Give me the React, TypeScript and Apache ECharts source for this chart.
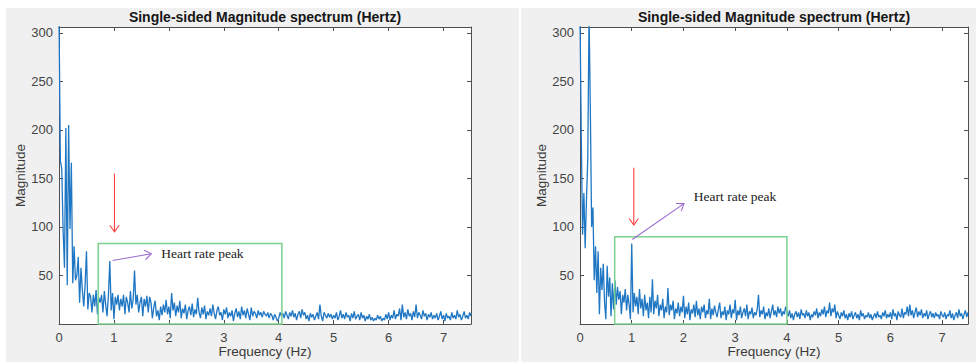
import React, { useEffect, useRef } from "react";
import * as echarts from "echarts";

// ---------- data ----------
const FREQ_STEP = 0.025; // Hz between spectrum bins

// left panel magnitude, bins 0 .. 7.5 Hz
const LEFT_MAGNITUDE = [
  320, 168, 160, 96, 58, 202, 40, 205, 98, 166, 42, 80, 45, 50, 69, 22, 58, 35, 18, 40,
  75, 15, 32, 28, 12, 30, 18, 35, 10, 27, 22, 30, 12, 34, 20, 8, 30, 65, 14, 32,
  5, 28, 20, 30, 14, 26, 18, 30, 10, 28, 22, 12, 34, 16, 25, 55, 20, 30, 12, 22,
  28, 8, 26, 18, 29, 12, 28, 22, 6, 17, 24, 8, 14, 4, 18, 9, 20, 12, 25, 10,
  18, 6, 32, 14, 22, 8, 19, 12, 24, 6, 16, 11, 20, 5, 14, 18, 9, 21, 7, 15,
  10, 27, 12, 6, 17, 10, 19, 5, 13, 9, 16, 8, 20, 11, 5, 14, 18, 9, 12, 4,
  15, 10, 17, 6, 12, 8, 14, 3, 11, 16, 7, 13, 5, 18, 9, 14, 6, 16, 10, 4,
  17, 8, 13, 11, 6, 14, 9, 12, 7, 13, 10, 8, 12, 6, 11, 9, 4, 10, 7, 3,
  6, 12, 8, 11, 6, 13, 9, 5, 12, 8, 14, 7, 11, 4, 10, 13, 6, 15, 9, 12,
  5, 9, 3, 11, 7, 10, 4, 8, 12, 5, 20, 8, 3, 12, 9, 6, 11, 7, 10, 5,
  9, 6, 12, 4, 8, 14, 6, 10, 5, 12, 7, 9, 3, 11, 6, 13, 5, 8, 10, 4,
  12, 6, 9, 3, 8, 5, 10, 4, 7, 3, 6, 4, 9, 5, 8, 3, 6, 4, 10, 5,
  12, 4, 9, 6, 14, 5, 10, 8, 16, 4, 20, 7, 12, 5, 15, 8, 11, 4, 13, 7,
  20, 6, 12, 9, 5, 14, 8, 11, 4, 10, 7, 12, 5, 9, 6, 11, 4, 8, 13, 5,
  9, 3, 11, 6, 8, 4, 12, 6, 9, 5, 14, 7, 10, 4, 8, 13, 6, 9, 5, 12,
  8,
];

// right panel magnitude, bins 0 .. 7.5 Hz
const RIGHT_MAGNITUDE = [
  320, 192, 92, 135, 78, 128, 170, 320, 220, 100, 120, 45, 80, 32, 75, 10, 58, 35, 62, 22,
  5, 60, 28, 48, 8, 42, 15, 45, 20, 38, 25, 34, 10, 30, 22, 36, 14, 30, 20, 5,
  83, 12, 32, 18, 28, 10, 36, 16, 26, 8, 30, 14, 22, 6, 28, 12, 46, 10, 24, 16,
  30, 8, 20, 14, 26, 6, 18, 12, 37, 9, 20, 14, 24, 5, 16, 11, 22, 8, 18, 12,
  29, 6, 18, 10, 22, 4, 15, 11, 20, 7, 24, 9, 16, 5, 18, 12, 20, 6, 14, 10,
  26, 5, 16, 9, 19, 12, 7, 15, 22, 6, 13, 9, 18, 4, 14, 10, 20, 6, 15, 11,
  25, 4, 14, 9, 18, 6, 12, 16, 8, 20, 5, 13, 10, 17, 6, 12, 9, 15, 30, 7,
  14, 10, 18, 5, 12, 8, 16, 6, 13, 20, 9, 14, 7, 18, 11, 16, 8, 13, 10, 18,
  12, 8, 14, 6, 11, 4, 10, 13, 7, 12, 5, 15, 9, 11, 6, 14, 8, 12, 4, 10,
  7, 13, 9, 16, 6, 12, 8, 15, 10, 18, 7, 14, 11, 22, 8, 16, 12, 20, 6, 13,
  9, 5, 12, 8, 14, 6, 10, 4, 11, 7, 13, 5, 9, 12, 6, 10, 4, 14, 8, 11,
  5, 9, 7, 12, 6, 10, 4, 8, 11, 6, 13, 7, 9, 5, 12, 8, 14, 6, 10, 7,
  12, 5, 15, 8, 11, 4, 13, 9, 7, 16, 6, 12, 10, 18, 8, 20, 9, 14, 6, 12,
  17, 7, 13, 9, 15, 6, 11, 8, 14, 5, 10, 13, 7, 11, 6, 12, 8, 10, 5, 13,
  9, 7, 12, 5, 10, 8, 14, 6, 11, 4, 9, 12, 6, 15, 8, 11, 5, 10, 14, 7,
  12,
];

// axes
const X_MIN = 0;
const X_MAX = 7.5;
const X_INTERVAL = 1;
const Y_MIN = 0;
const Y_MAX = 306;
const Y_INTERVAL = 50;

// texts
const PANEL_TITLE = "Single-sided Magnitude spectrum (Hertz)";
const X_NAME = "Frequency (Hz)";
const Y_NAME = "Magnitude";
const PEAK_LABEL = "Heart rate peak";

// annotations in data coordinates: [x0, y0, x1, y1]
const LEFT_BOX = [[0.714, 0, 4.057, 83]];
const RIGHT_BOX = [[0.67, 0, 4.0, 90]];
const LEFT_RED_ARROW = [[1.01, 155, 1.01, 95]];
const RIGHT_RED_ARROW = [[1.04, 161, 1.04, 102]];
const LEFT_PURPLE_ARROW = [[0.975, 65.5, 1.68, 72.3]];
const RIGHT_PURPLE_ARROW = [[1.01, 87, 2.01, 124]];
const LEFT_LABEL_AT = [[1.86, 72.6]];
const RIGHT_LABEL_AT = [[2.2, 131.6]];

// ---------- styling ----------
const SANS = '"Liberation Sans", Arial, Helvetica, sans-serif';
const SERIF = '"Liberation Serif", "Times New Roman", serif';
const AXIS_COLOR = "#4f4f4f";
const LABEL_COLOR = "#444444";
const LINE_COLOR = "#1f77c4";
const GREEN = "#7dd08f";
const RED = "#ff4040";
const PURPLE = "#9a6bd0";

const toPairs = (mags: number[]) =>
  mags.map((v, i) => [Math.round(i * FREQ_STEP * 1000) / 1000, v]);

function boxSeries(data: number[][], grid: number) {
  return {
    type: "custom",
    xAxisIndex: grid * 2,
    yAxisIndex: grid * 2,
    silent: true,
    z: 4,
    encode: { x: [0, 2], y: [1, 3] },
    data,
    renderItem: (_p: any, api: any) => {
      const a = api.coord([api.value(0), api.value(1)]);
      const b = api.coord([api.value(2), api.value(3)]);
      return {
        type: "rect",
        shape: {
          x: Math.min(a[0], b[0]),
          y: Math.min(a[1], b[1]),
          width: Math.abs(b[0] - a[0]),
          height: Math.abs(b[1] - a[1]),
        },
        style: { fill: "none", stroke: GREEN, lineWidth: 1.5 },
      };
    },
  };
}

function arrowSeries(data: number[][], grid: number, color: string) {
  return {
    type: "custom",
    xAxisIndex: grid * 2,
    yAxisIndex: grid * 2,
    silent: true,
    z: 5,
    encode: { x: [0, 2], y: [1, 3] },
    data,
    renderItem: (_p: any, api: any) => {
      const a = api.coord([api.value(0), api.value(1)]);
      const b = api.coord([api.value(2), api.value(3)]);
      const ang = Math.atan2(b[1] - a[1], b[0] - a[0]);
      const len = 8;
      const spread = 0.62;
      const h1 = [b[0] - len * Math.cos(ang - spread), b[1] - len * Math.sin(ang - spread)];
      const h2 = [b[0] - len * Math.cos(ang + spread), b[1] - len * Math.sin(ang + spread)];
      return {
        type: "group",
        children: [
          {
            type: "line",
            shape: { x1: a[0], y1: a[1], x2: b[0], y2: b[1] },
            style: { stroke: color, lineWidth: 1.1 },
          },
          {
            type: "polyline",
            shape: { points: [h1, b, h2] },
            style: { stroke: color, fill: "none", lineWidth: 1.1 },
          },
        ],
      };
    },
  };
}

function labelSeries(data: number[][], grid: number) {
  return {
    type: "custom",
    xAxisIndex: grid * 2,
    yAxisIndex: grid * 2,
    silent: true,
    z: 6,
    data,
    renderItem: (_p: any, api: any) => {
      const p = api.coord([api.value(0), api.value(1)]);
      return {
        type: "text",
        x: p[0],
        y: p[1],
        style: {
          text: PEAK_LABEL,
          fill: "#1a1a1a",
          font: `13.5px ${SERIF}`,
          textAlign: "left",
          align: "left",
          textVerticalAlign: "middle",
          verticalAlign: "middle",
        },
      };
    },
  };
}

function xAxes(grid: number) {
  const common = {
    gridIndex: grid,
    type: "value",
    min: X_MIN,
    max: X_MAX,
    interval: X_INTERVAL,
    splitLine: { show: false },
    axisLine: { show: true, onZero: false, lineStyle: { color: AXIS_COLOR, width: 1 } },
    axisTick: { show: true, inside: true, length: 4, lineStyle: { color: AXIS_COLOR } },
  };
  return [
    {
      ...common,
      position: "bottom",
      axisLabel: {
        color: LABEL_COLOR,
        fontSize: 13,
        fontFamily: SANS,
        margin: 7,
        formatter: (v: number) => (Number.isInteger(v) ? String(v) : ""),
      },
      name: X_NAME,
      nameLocation: "middle",
      nameGap: 20,
      nameMoveOverlap: false,
      nameTextStyle: { color: "#3a3a3a", fontSize: 13.5, fontFamily: SANS },
    },
    { ...common, position: "top", axisLabel: { show: false } },
  ];
}

function yAxes(grid: number) {
  const common = {
    gridIndex: grid,
    type: "value",
    min: Y_MIN,
    max: Y_MAX,
    interval: Y_INTERVAL,
    splitLine: { show: false },
    axisLine: { show: true, onZero: false, lineStyle: { color: AXIS_COLOR, width: 1 } },
    axisTick: { show: true, inside: true, length: 4, lineStyle: { color: AXIS_COLOR } },
  };
  return [
    {
      ...common,
      position: "left",
      axisLabel: {
        color: LABEL_COLOR,
        fontSize: 13,
        fontFamily: SANS,
        margin: 6,
        formatter: (v: number) => (v > 0 && v % Y_INTERVAL === 0 ? String(v) : ""),
      },
      name: Y_NAME,
      nameLocation: "middle",
      nameGap: 31,
      nameTextStyle: { color: "#3a3a3a", fontSize: 13.5, fontFamily: SANS },
    },
    { ...common, position: "right", axisLabel: { show: false } },
  ];
}

function lineSeries(mags: number[], grid: number) {
  return {
    type: "line",
    xAxisIndex: grid * 2,
    yAxisIndex: grid * 2,
    data: toPairs(mags),
    showSymbol: false,
    symbol: "none",
    clip: true,
    z: 3,
    lineStyle: { color: LINE_COLOR, width: 1.3 },
    silent: true,
  };
}

const GRIDS = [
  { left: 59, top: 27, width: 412, height: 297 },
  { left: 580, top: 27, width: 388, height: 297 },
];

export default function App() {
  const ref = useRef<HTMLDivElement>(null);

  useEffect(() => {
    if (!ref.current) return;
    const chart = echarts.init(ref.current, undefined, { renderer: "svg" });
    chart.setOption({
      animation: false,
      backgroundColor: "transparent",
      grid: GRIDS.map((g) => ({
        ...g,
        show: true,
        backgroundColor: "#ffffff",
        borderWidth: 0,
        containLabel: false,
        outerBoundsMode: "none",
      })),
      xAxis: [...xAxes(0), ...xAxes(1)],
      yAxis: [...yAxes(0), ...yAxes(1)],
      graphic: GRIDS.map((g) => ({
        type: "text",
        x: g.left + g.width / 2,
        y: 16.5,
        style: {
          text: PANEL_TITLE,
          fill: "#161616",
          font: `bold 14px ${SANS}`,
          textAlign: "center",
          align: "center",
          textVerticalAlign: "middle",
          verticalAlign: "middle",
        },
      })),
      series: [
        lineSeries(LEFT_MAGNITUDE, 0),
        lineSeries(RIGHT_MAGNITUDE, 1),
        boxSeries(LEFT_BOX, 0),
        boxSeries(RIGHT_BOX, 1),
        arrowSeries(LEFT_RED_ARROW, 0, RED),
        arrowSeries(RIGHT_RED_ARROW, 1, RED),
        arrowSeries(LEFT_PURPLE_ARROW, 0, PURPLE),
        arrowSeries(RIGHT_PURPLE_ARROW, 1, PURPLE),
        labelSeries(LEFT_LABEL_AT, 0),
        labelSeries(RIGHT_LABEL_AT, 1),
      ],
    });
    return () => chart.dispose();
  }, []);

  return (
    <div
      style={{
        position: "fixed",
        left: 0,
        top: 0,
        width: 976,
        height: 362,
        background: "#ffffff",
        overflow: "hidden",
      }}
    >
      <div
        style={{
          position: "absolute",
          left: 6,
          top: 8,
          width: 970,
          height: 354,
          background: "#f0f0f0",
        }}
      />
      <div
        style={{
          position: "absolute",
          left: 519,
          top: 8,
          width: 2,
          height: 354,
          background: "#ffffff",
        }}
      />
      <div
        ref={ref}
        style={{ position: "absolute", left: 0, top: 0, width: 976, height: 362 }}
      />
    </div>
  );
}
